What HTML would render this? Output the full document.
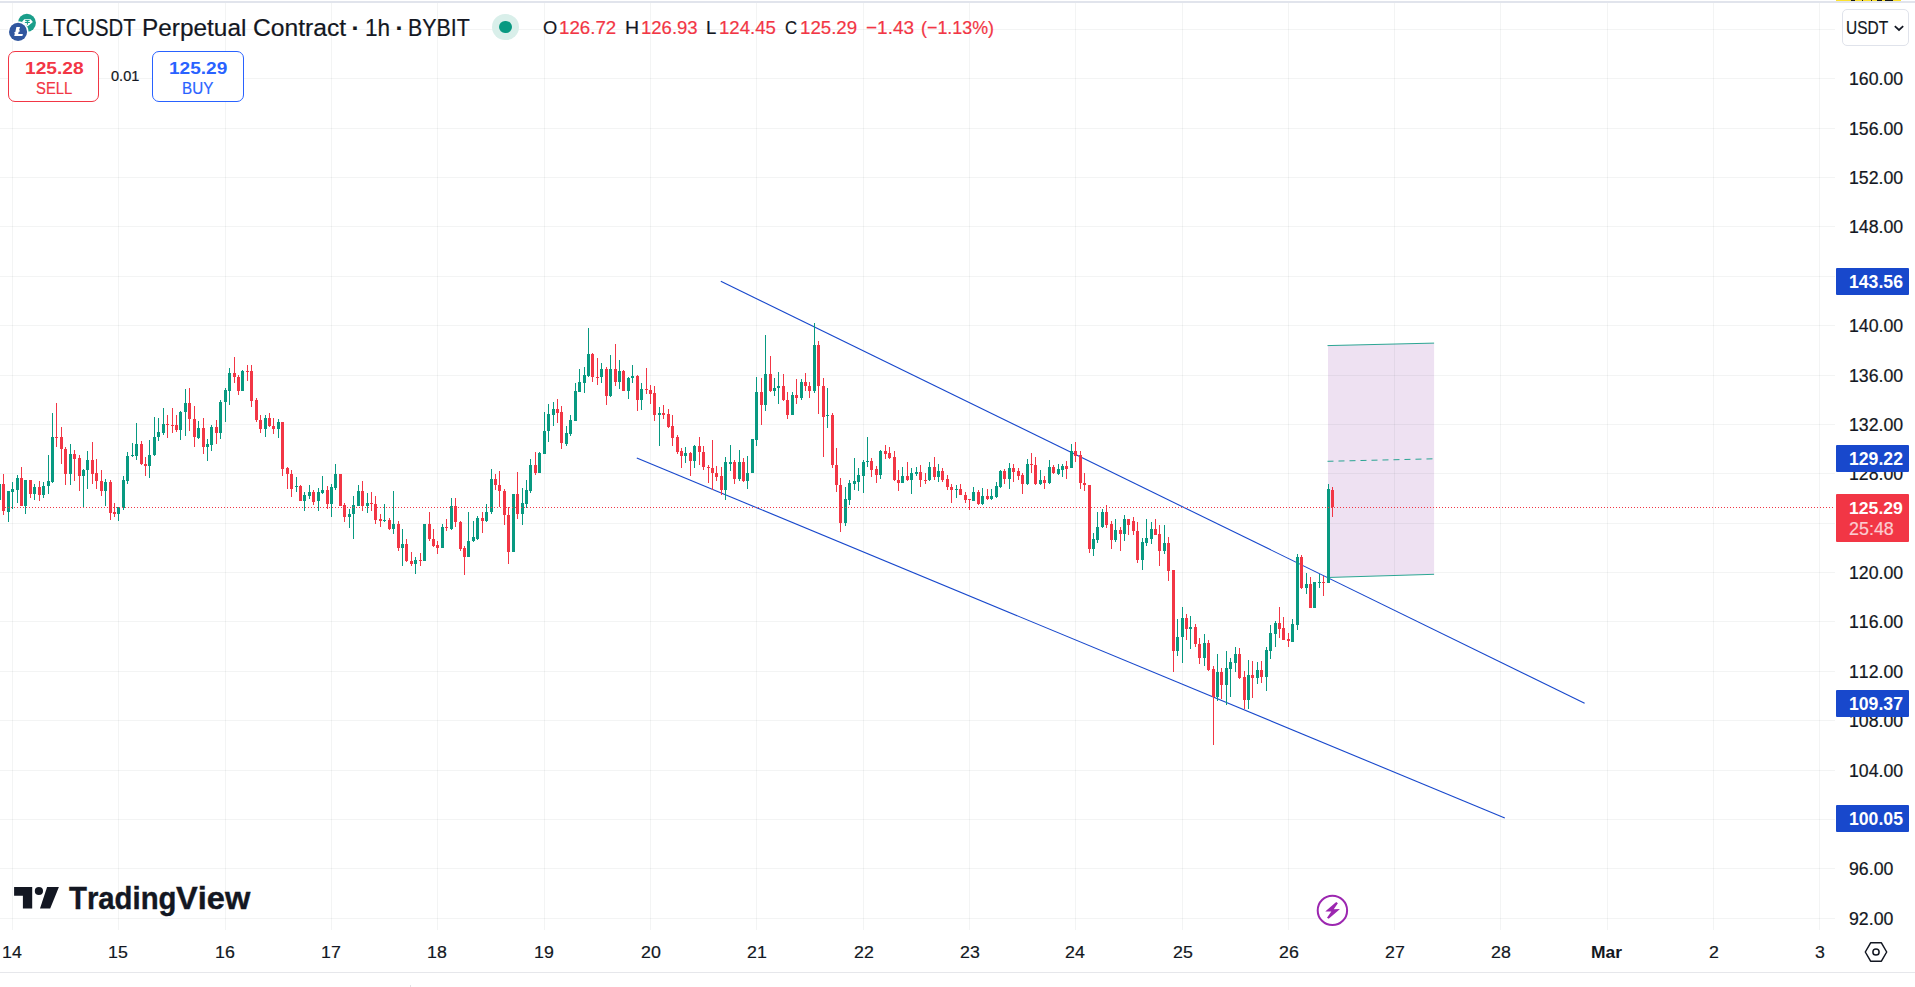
<!DOCTYPE html><html><head><meta charset="utf-8"><title>LTCUSDT chart</title><style>
html,body{margin:0;padding:0;background:#fff}
body{width:1915px;height:987px;position:relative;overflow:hidden;font-family:"Liberation Sans",sans-serif;color:#131722;font-kerning:none}
.a{position:absolute;white-space:nowrap;line-height:1}
.t{position:absolute;white-space:pre;line-height:1;transform-origin:0 0;-webkit-text-stroke:0.2px}
.lb{position:absolute;left:1836px;width:73px;height:27px;border-radius:1px;background:#1848cc}
.btn{position:absolute;top:51px;height:50.7px;box-sizing:border-box;border:1.3px solid;border-radius:7px;background:#fff}

</style></head><body>
<svg id="chart" width="1915" height="987" viewBox="0 0 1915 987" style="position:absolute;left:0;top:0">
<g stroke="rgba(42,46,57,0.055)" stroke-width="1" shape-rendering="crispEdges">
<line x1="12.5" y1="3" x2="12.5" y2="930"/>
<line x1="118.5" y1="3" x2="118.5" y2="930"/>
<line x1="225.5" y1="3" x2="225.5" y2="930"/>
<line x1="331.5" y1="3" x2="331.5" y2="930"/>
<line x1="437.5" y1="3" x2="437.5" y2="930"/>
<line x1="544.5" y1="3" x2="544.5" y2="930"/>
<line x1="650.5" y1="3" x2="650.5" y2="930"/>
<line x1="756.5" y1="3" x2="756.5" y2="930"/>
<line x1="863.5" y1="3" x2="863.5" y2="930"/>
<line x1="969.5" y1="3" x2="969.5" y2="930"/>
<line x1="1075.5" y1="3" x2="1075.5" y2="930"/>
<line x1="1182.5" y1="3" x2="1182.5" y2="930"/>
<line x1="1288.5" y1="3" x2="1288.5" y2="930"/>
<line x1="1394.5" y1="3" x2="1394.5" y2="930"/>
<line x1="1500.5" y1="3" x2="1500.5" y2="930"/>
<line x1="1607.5" y1="3" x2="1607.5" y2="930"/>
<line x1="1713.5" y1="3" x2="1713.5" y2="930"/>
<line x1="1819.5" y1="3" x2="1819.5" y2="930"/>
<line x1="0" y1="29.5" x2="1835" y2="29.5"/>
<line x1="0" y1="78.5" x2="1835" y2="78.5"/>
<line x1="0" y1="128.5" x2="1835" y2="128.5"/>
<line x1="0" y1="177.5" x2="1835" y2="177.5"/>
<line x1="0" y1="226.5" x2="1835" y2="226.5"/>
<line x1="0" y1="276.5" x2="1835" y2="276.5"/>
<line x1="0" y1="325.5" x2="1835" y2="325.5"/>
<line x1="0" y1="375.5" x2="1835" y2="375.5"/>
<line x1="0" y1="424.5" x2="1835" y2="424.5"/>
<line x1="0" y1="473.5" x2="1835" y2="473.5"/>
<line x1="0" y1="523.5" x2="1835" y2="523.5"/>
<line x1="0" y1="572.5" x2="1835" y2="572.5"/>
<line x1="0" y1="621.5" x2="1835" y2="621.5"/>
<line x1="0" y1="671.5" x2="1835" y2="671.5"/>
<line x1="0" y1="720.5" x2="1835" y2="720.5"/>
<line x1="0" y1="770.5" x2="1835" y2="770.5"/>
<line x1="0" y1="819.5" x2="1835" y2="819.5"/>
<line x1="0" y1="868.5" x2="1835" y2="868.5"/>
<line x1="0" y1="918.5" x2="1835" y2="918.5"/>
</g>
<polygon points="1328,345.6 1434.1,343.1 1434.1,574.3 1328,577.5" fill="#eee1f2"/>
<g stroke="rgba(42,46,57,0.055)" stroke-width="1" shape-rendering="crispEdges">
<line x1="1394.5" y1="344" x2="1394.5" y2="575"/>
<line x1="1328" y1="375.5" x2="1434" y2="375.5"/>
<line x1="1328" y1="424.5" x2="1434" y2="424.5"/>
<line x1="1328" y1="473.5" x2="1434" y2="473.5"/>
<line x1="1328" y1="523.5" x2="1434" y2="523.5"/>
</g>
<line x1="1327.5" y1="345.6" x2="1434.1" y2="343.1" stroke="#089981" stroke-width="1" stroke-opacity="0.85"/>
<line x1="1327.5" y1="577.5" x2="1434.1" y2="574.3" stroke="#089981" stroke-width="1" stroke-opacity="0.85"/>
<line x1="1327.5" y1="461.3" x2="1434.1" y2="458.8" stroke="#089981" stroke-width="1" stroke-opacity="0.85" stroke-dasharray="6 5"/>
<line x1="720.8" y1="281.2" x2="1584.6" y2="703.2" stroke="#1848cc" stroke-width="1.1"/>
<line x1="636.8" y1="458.0" x2="1504.8" y2="818.0" stroke="#1848cc" stroke-width="1.1"/>
<path d="M-0.5 484.0V505.0" stroke="#089981"/><rect x="-2.0" y="484.0" width="3" height="16.0" fill="#089981"/>
<path d="M3.5 474.0V515.0" stroke="#f23645"/><rect x="2.0" y="484.0" width="3" height="27.0" fill="#f23645"/>
<path d="M8.5 491.0V522.0" stroke="#089981"/><rect x="7.0" y="491.0" width="3" height="21.0" fill="#089981"/>
<path d="M12.5 482.0V509.0" stroke="#089981"/><rect x="11.0" y="489.0" width="3" height="3.0" fill="#089981"/>
<path d="M17.5 475.0V503.0" stroke="#089981"/><rect x="16.0" y="478.0" width="3" height="12.0" fill="#089981"/>
<path d="M21.5 467.0V506.0" stroke="#f23645"/><rect x="20.0" y="478.0" width="3" height="28.0" fill="#f23645"/>
<path d="M25.5 480.0V514.0" stroke="#089981"/><rect x="24.0" y="480.0" width="3" height="26.0" fill="#089981"/>
<path d="M30.5 480.0V498.0" stroke="#f23645"/><rect x="29.0" y="480.0" width="3" height="14.0" fill="#f23645"/>
<path d="M34.5 484.0V500.0" stroke="#089981"/><rect x="33.0" y="487.0" width="3" height="7.0" fill="#089981"/>
<path d="M39.5 481.0V501.0" stroke="#f23645"/><rect x="38.0" y="487.0" width="3" height="8.0" fill="#f23645"/>
<path d="M43.5 482.0V498.0" stroke="#089981"/><rect x="42.0" y="486.0" width="3" height="9.0" fill="#089981"/>
<path d="M48.5 455.0V494.0" stroke="#089981"/><rect x="47.0" y="481.0" width="3" height="5.0" fill="#089981"/>
<path d="M52.5 413.0V483.0" stroke="#089981"/><rect x="51.0" y="437.0" width="3" height="45.0" fill="#089981"/>
<path d="M56.5 403.0V447.0" stroke="#f23645"/><rect x="55.0" y="437.0" width="3" height="1.0" fill="#f23645"/>
<path d="M61.5 427.0V464.0" stroke="#f23645"/><rect x="60.0" y="437.0" width="3" height="12.0" fill="#f23645"/>
<path d="M65.5 447.0V485.0" stroke="#f23645"/><rect x="64.0" y="449.0" width="3" height="25.0" fill="#f23645"/>
<path d="M70.5 444.0V485.0" stroke="#089981"/><rect x="69.0" y="454.0" width="3" height="20.0" fill="#089981"/>
<path d="M74.5 450.0V481.0" stroke="#f23645"/><rect x="73.0" y="454.0" width="3" height="5.0" fill="#f23645"/>
<path d="M79.5 455.0V491.0" stroke="#f23645"/><rect x="78.0" y="458.0" width="3" height="18.0" fill="#f23645"/>
<path d="M83.5 469.0V507.0" stroke="#089981"/><rect x="82.0" y="470.0" width="3" height="6.0" fill="#089981"/>
<path d="M87.5 451.0V489.0" stroke="#089981"/><rect x="86.0" y="460.0" width="3" height="10.0" fill="#089981"/>
<path d="M92.5 442.0V484.0" stroke="#f23645"/><rect x="91.0" y="460.0" width="3" height="14.0" fill="#f23645"/>
<path d="M96.5 459.0V489.0" stroke="#f23645"/><rect x="95.0" y="473.0" width="3" height="8.0" fill="#f23645"/>
<path d="M101.5 470.0V496.0" stroke="#f23645"/><rect x="100.0" y="481.0" width="3" height="10.0" fill="#f23645"/>
<path d="M105.5 479.0V506.0" stroke="#089981"/><rect x="104.0" y="482.0" width="3" height="9.0" fill="#089981"/>
<path d="M110.5 480.0V520.0" stroke="#f23645"/><rect x="109.0" y="482.0" width="3" height="31.0" fill="#f23645"/>
<path d="M114.5 503.0V517.0" stroke="#f23645"/><rect x="113.0" y="512.0" width="3" height="2.0" fill="#f23645"/>
<path d="M118.5 507.0V521.0" stroke="#089981"/><rect x="117.0" y="507.0" width="3" height="7.0" fill="#089981"/>
<path d="M123.5 476.0V510.0" stroke="#089981"/><rect x="122.0" y="480.0" width="3" height="28.0" fill="#089981"/>
<path d="M127.5 452.0V484.0" stroke="#089981"/><rect x="126.0" y="456.0" width="3" height="25.0" fill="#089981"/>
<path d="M132.5 443.0V457.0" stroke="#089981"/><rect x="131.0" y="455.0" width="3" height="1.0" fill="#089981"/>
<path d="M136.5 423.0V460.0" stroke="#089981"/><rect x="135.0" y="444.0" width="3" height="12.0" fill="#089981"/>
<path d="M141.5 441.0V465.0" stroke="#f23645"/><rect x="140.0" y="444.0" width="3" height="20.0" fill="#f23645"/>
<path d="M145.5 457.0V476.0" stroke="#f23645"/><rect x="144.0" y="464.0" width="3" height="2.0" fill="#f23645"/>
<path d="M149.5 440.0V478.0" stroke="#089981"/><rect x="148.0" y="455.0" width="3" height="11.0" fill="#089981"/>
<path d="M154.5 417.0V456.0" stroke="#089981"/><rect x="153.0" y="437.0" width="3" height="18.0" fill="#089981"/>
<path d="M158.5 418.0V441.0" stroke="#089981"/><rect x="157.0" y="432.0" width="3" height="5.0" fill="#089981"/>
<path d="M163.5 408.0V435.0" stroke="#089981"/><rect x="162.0" y="424.0" width="3" height="9.0" fill="#089981"/>
<path d="M167.5 415.0V438.0" stroke="#f23645"/><rect x="166.0" y="424.0" width="3" height="1.0" fill="#f23645"/>
<path d="M172.5 408.0V433.0" stroke="#f23645"/><rect x="171.0" y="425.0" width="3" height="1.0" fill="#f23645"/>
<path d="M176.5 415.0V432.0" stroke="#f23645"/><rect x="175.0" y="425.0" width="3" height="5.0" fill="#f23645"/>
<path d="M180.5 411.0V440.0" stroke="#089981"/><rect x="179.0" y="412.0" width="3" height="18.0" fill="#089981"/>
<path d="M185.5 389.0V436.0" stroke="#089981"/><rect x="184.0" y="403.0" width="3" height="9.0" fill="#089981"/>
<path d="M189.5 388.0V431.0" stroke="#f23645"/><rect x="188.0" y="403.0" width="3" height="16.0" fill="#f23645"/>
<path d="M194.5 406.0V447.0" stroke="#f23645"/><rect x="193.0" y="419.0" width="3" height="18.0" fill="#f23645"/>
<path d="M198.5 421.0V439.0" stroke="#089981"/><rect x="197.0" y="428.0" width="3" height="10.0" fill="#089981"/>
<path d="M203.5 418.0V454.0" stroke="#f23645"/><rect x="202.0" y="428.0" width="3" height="19.0" fill="#f23645"/>
<path d="M207.5 439.0V461.0" stroke="#089981"/><rect x="206.0" y="444.0" width="3" height="3.0" fill="#089981"/>
<path d="M211.5 425.0V451.0" stroke="#089981"/><rect x="210.0" y="427.0" width="3" height="18.0" fill="#089981"/>
<path d="M216.5 420.0V444.0" stroke="#f23645"/><rect x="215.0" y="427.0" width="3" height="6.0" fill="#f23645"/>
<path d="M220.5 400.0V439.0" stroke="#089981"/><rect x="219.0" y="402.0" width="3" height="31.0" fill="#089981"/>
<path d="M225.5 388.0V422.0" stroke="#089981"/><rect x="224.0" y="390.0" width="3" height="12.0" fill="#089981"/>
<path d="M229.5 368.0V405.0" stroke="#089981"/><rect x="228.0" y="373.0" width="3" height="18.0" fill="#089981"/>
<path d="M234.5 357.0V383.0" stroke="#f23645"/><rect x="233.0" y="373.0" width="3" height="4.0" fill="#f23645"/>
<path d="M238.5 375.0V395.0" stroke="#f23645"/><rect x="237.0" y="377.0" width="3" height="14.0" fill="#f23645"/>
<path d="M242.5 370.0V391.0" stroke="#089981"/><rect x="241.0" y="371.0" width="3" height="20.0" fill="#089981"/>
<path d="M247.5 365.0V381.0" stroke="#f23645"/><rect x="246.0" y="371.0" width="3" height="1.0" fill="#f23645"/>
<path d="M251.5 365.0V407.0" stroke="#f23645"/><rect x="250.0" y="371.0" width="3" height="30.0" fill="#f23645"/>
<path d="M256.5 398.0V422.0" stroke="#f23645"/><rect x="255.0" y="400.0" width="3" height="20.0" fill="#f23645"/>
<path d="M260.5 415.0V433.0" stroke="#f23645"/><rect x="259.0" y="420.0" width="3" height="9.0" fill="#f23645"/>
<path d="M265.5 415.0V437.0" stroke="#089981"/><rect x="264.0" y="418.0" width="3" height="11.0" fill="#089981"/>
<path d="M269.5 413.0V427.0" stroke="#f23645"/><rect x="268.0" y="418.0" width="3" height="8.0" fill="#f23645"/>
<path d="M273.5 418.0V434.0" stroke="#f23645"/><rect x="272.0" y="426.0" width="3" height="3.0" fill="#f23645"/>
<path d="M278.5 419.0V438.0" stroke="#089981"/><rect x="277.0" y="422.0" width="3" height="7.0" fill="#089981"/>
<path d="M282.5 422.0V476.0" stroke="#f23645"/><rect x="281.0" y="422.0" width="3" height="47.0" fill="#f23645"/>
<path d="M287.5 467.0V489.0" stroke="#f23645"/><rect x="286.0" y="468.0" width="3" height="6.0" fill="#f23645"/>
<path d="M291.5 470.0V497.0" stroke="#f23645"/><rect x="290.0" y="474.0" width="3" height="15.0" fill="#f23645"/>
<path d="M296.5 477.0V492.0" stroke="#089981"/><rect x="295.0" y="486.0" width="3" height="1.0" fill="#089981"/>
<path d="M300.5 485.0V501.0" stroke="#f23645"/><rect x="299.0" y="486.0" width="3" height="15.0" fill="#f23645"/>
<path d="M304.5 492.0V511.0" stroke="#089981"/><rect x="303.0" y="495.0" width="3" height="6.0" fill="#089981"/>
<path d="M309.5 485.0V499.0" stroke="#089981"/><rect x="308.0" y="492.0" width="3" height="4.0" fill="#089981"/>
<path d="M313.5 490.0V505.0" stroke="#f23645"/><rect x="312.0" y="492.0" width="3" height="10.0" fill="#f23645"/>
<path d="M318.5 488.0V511.0" stroke="#089981"/><rect x="317.0" y="492.0" width="3" height="9.0" fill="#089981"/>
<path d="M322.5 476.0V494.0" stroke="#089981"/><rect x="321.0" y="490.0" width="3" height="3.0" fill="#089981"/>
<path d="M327.5 486.0V509.0" stroke="#f23645"/><rect x="326.0" y="490.0" width="3" height="14.0" fill="#f23645"/>
<path d="M331.5 484.0V517.0" stroke="#089981"/><rect x="330.0" y="487.0" width="3" height="17.0" fill="#089981"/>
<path d="M335.5 464.0V490.0" stroke="#089981"/><rect x="334.0" y="474.0" width="3" height="14.0" fill="#089981"/>
<path d="M340.5 474.0V506.0" stroke="#f23645"/><rect x="339.0" y="474.0" width="3" height="32.0" fill="#f23645"/>
<path d="M344.5 503.0V522.0" stroke="#f23645"/><rect x="343.0" y="505.0" width="3" height="12.0" fill="#f23645"/>
<path d="M349.5 509.0V528.0" stroke="#089981"/><rect x="348.0" y="514.0" width="3" height="3.0" fill="#089981"/>
<path d="M353.5 496.0V539.0" stroke="#089981"/><rect x="352.0" y="505.0" width="3" height="9.0" fill="#089981"/>
<path d="M358.5 485.0V506.0" stroke="#089981"/><rect x="357.0" y="491.0" width="3" height="15.0" fill="#089981"/>
<path d="M362.5 481.0V511.0" stroke="#f23645"/><rect x="361.0" y="491.0" width="3" height="15.0" fill="#f23645"/>
<path d="M367.5 493.0V513.0" stroke="#089981"/><rect x="366.0" y="503.0" width="3" height="3.0" fill="#089981"/>
<path d="M371.5 492.0V511.0" stroke="#f23645"/><rect x="370.0" y="503.0" width="3" height="1.0" fill="#f23645"/>
<path d="M375.5 496.0V524.0" stroke="#f23645"/><rect x="374.0" y="504.0" width="3" height="16.0" fill="#f23645"/>
<path d="M380.5 514.0V527.0" stroke="#f23645"/><rect x="379.0" y="519.0" width="3" height="2.0" fill="#f23645"/>
<path d="M384.5 504.0V522.0" stroke="#089981"/><rect x="383.0" y="520.0" width="3" height="1.0" fill="#089981"/>
<path d="M389.5 518.0V530.0" stroke="#f23645"/><rect x="388.0" y="520.0" width="3" height="9.0" fill="#f23645"/>
<path d="M393.5 491.0V534.0" stroke="#089981"/><rect x="392.0" y="524.0" width="3" height="5.0" fill="#089981"/>
<path d="M398.5 521.0V551.0" stroke="#f23645"/><rect x="397.0" y="524.0" width="3" height="24.0" fill="#f23645"/>
<path d="M402.5 529.0V566.0" stroke="#089981"/><rect x="401.0" y="544.0" width="3" height="4.0" fill="#089981"/>
<path d="M406.5 539.0V562.0" stroke="#f23645"/><rect x="405.0" y="544.0" width="3" height="17.0" fill="#f23645"/>
<path d="M411.5 552.0V566.0" stroke="#f23645"/><rect x="410.0" y="561.0" width="3" height="3.0" fill="#f23645"/>
<path d="M415.5 557.0V574.0" stroke="#089981"/><rect x="414.0" y="560.0" width="3" height="4.0" fill="#089981"/>
<path d="M420.5 553.0V566.0" stroke="#f23645"/><rect x="419.0" y="560.0" width="3" height="1.0" fill="#f23645"/>
<path d="M424.5 524.0V561.0" stroke="#089981"/><rect x="423.0" y="524.0" width="3" height="37.0" fill="#089981"/>
<path d="M429.5 512.0V541.0" stroke="#f23645"/><rect x="428.0" y="524.0" width="3" height="15.0" fill="#f23645"/>
<path d="M433.5 529.0V547.0" stroke="#f23645"/><rect x="432.0" y="539.0" width="3" height="7.0" fill="#f23645"/>
<path d="M437.5 541.0V554.0" stroke="#f23645"/><rect x="436.0" y="545.0" width="3" height="3.0" fill="#f23645"/>
<path d="M442.5 524.0V548.0" stroke="#089981"/><rect x="441.0" y="527.0" width="3" height="21.0" fill="#089981"/>
<path d="M446.5 519.0V531.0" stroke="#f23645"/><rect x="445.0" y="527.0" width="3" height="1.0" fill="#f23645"/>
<path d="M451.5 498.0V530.0" stroke="#089981"/><rect x="450.0" y="506.0" width="3" height="23.0" fill="#089981"/>
<path d="M455.5 498.0V527.0" stroke="#f23645"/><rect x="454.0" y="506.0" width="3" height="16.0" fill="#f23645"/>
<path d="M460.5 521.0V551.0" stroke="#f23645"/><rect x="459.0" y="522.0" width="3" height="27.0" fill="#f23645"/>
<path d="M464.5 546.0V575.0" stroke="#f23645"/><rect x="463.0" y="548.0" width="3" height="9.0" fill="#f23645"/>
<path d="M468.5 512.0V557.0" stroke="#089981"/><rect x="467.0" y="541.0" width="3" height="16.0" fill="#089981"/>
<path d="M473.5 521.0V542.0" stroke="#089981"/><rect x="472.0" y="537.0" width="3" height="4.0" fill="#089981"/>
<path d="M477.5 516.0V540.0" stroke="#089981"/><rect x="476.0" y="518.0" width="3" height="21.0" fill="#089981"/>
<path d="M482.5 512.0V533.0" stroke="#f23645"/><rect x="481.0" y="518.0" width="3" height="3.0" fill="#f23645"/>
<path d="M486.5 504.0V522.0" stroke="#089981"/><rect x="485.0" y="512.0" width="3" height="9.0" fill="#089981"/>
<path d="M491.5 469.0V514.0" stroke="#089981"/><rect x="490.0" y="479.0" width="3" height="33.0" fill="#089981"/>
<path d="M495.5 474.0V490.0" stroke="#f23645"/><rect x="494.0" y="479.0" width="3" height="6.0" fill="#f23645"/>
<path d="M499.5 471.0V507.0" stroke="#f23645"/><rect x="498.0" y="485.0" width="3" height="6.0" fill="#f23645"/>
<path d="M504.5 489.0V525.0" stroke="#f23645"/><rect x="503.0" y="491.0" width="3" height="24.0" fill="#f23645"/>
<path d="M508.5 507.0V564.0" stroke="#f23645"/><rect x="507.0" y="515.0" width="3" height="37.0" fill="#f23645"/>
<path d="M513.5 494.0V552.0" stroke="#089981"/><rect x="512.0" y="494.0" width="3" height="58.0" fill="#089981"/>
<path d="M517.5 472.0V519.0" stroke="#f23645"/><rect x="516.0" y="494.0" width="3" height="20.0" fill="#f23645"/>
<path d="M522.5 488.0V525.0" stroke="#089981"/><rect x="521.0" y="503.0" width="3" height="11.0" fill="#089981"/>
<path d="M526.5 480.0V508.0" stroke="#089981"/><rect x="525.0" y="490.0" width="3" height="14.0" fill="#089981"/>
<path d="M530.5 459.0V493.0" stroke="#089981"/><rect x="529.0" y="465.0" width="3" height="26.0" fill="#089981"/>
<path d="M535.5 452.0V475.0" stroke="#f23645"/><rect x="534.0" y="465.0" width="3" height="8.0" fill="#f23645"/>
<path d="M539.5 452.0V473.0" stroke="#089981"/><rect x="538.0" y="453.0" width="3" height="20.0" fill="#089981"/>
<path d="M544.5 412.0V454.0" stroke="#089981"/><rect x="543.0" y="431.0" width="3" height="23.0" fill="#089981"/>
<path d="M548.5 404.0V442.0" stroke="#089981"/><rect x="547.0" y="414.0" width="3" height="17.0" fill="#089981"/>
<path d="M553.5 402.0V426.0" stroke="#089981"/><rect x="552.0" y="409.0" width="3" height="6.0" fill="#089981"/>
<path d="M557.5 399.0V423.0" stroke="#f23645"/><rect x="556.0" y="409.0" width="3" height="4.0" fill="#f23645"/>
<path d="M561.5 406.0V449.0" stroke="#f23645"/><rect x="560.0" y="412.0" width="3" height="31.0" fill="#f23645"/>
<path d="M566.5 426.0V446.0" stroke="#089981"/><rect x="565.0" y="433.0" width="3" height="11.0" fill="#089981"/>
<path d="M570.5 415.0V436.0" stroke="#089981"/><rect x="569.0" y="420.0" width="3" height="14.0" fill="#089981"/>
<path d="M575.5 383.0V421.0" stroke="#089981"/><rect x="574.0" y="391.0" width="3" height="30.0" fill="#089981"/>
<path d="M579.5 369.0V392.0" stroke="#089981"/><rect x="578.0" y="382.0" width="3" height="10.0" fill="#089981"/>
<path d="M584.5 367.0V393.0" stroke="#089981"/><rect x="583.0" y="375.0" width="3" height="8.0" fill="#089981"/>
<path d="M588.5 328.0V377.0" stroke="#089981"/><rect x="587.0" y="354.0" width="3" height="22.0" fill="#089981"/>
<path d="M592.5 353.0V382.0" stroke="#f23645"/><rect x="591.0" y="354.0" width="3" height="23.0" fill="#f23645"/>
<path d="M597.5 358.0V385.0" stroke="#f23645"/><rect x="596.0" y="377.0" width="3" height="1.0" fill="#f23645"/>
<path d="M601.5 363.0V383.0" stroke="#089981"/><rect x="600.0" y="369.0" width="3" height="8.0" fill="#089981"/>
<path d="M606.5 367.0V405.0" stroke="#f23645"/><rect x="605.0" y="369.0" width="3" height="27.0" fill="#f23645"/>
<path d="M610.5 355.0V397.0" stroke="#089981"/><rect x="609.0" y="369.0" width="3" height="27.0" fill="#089981"/>
<path d="M615.5 344.0V386.0" stroke="#f23645"/><rect x="614.0" y="369.0" width="3" height="13.0" fill="#f23645"/>
<path d="M619.5 360.0V389.0" stroke="#089981"/><rect x="618.0" y="371.0" width="3" height="11.0" fill="#089981"/>
<path d="M623.5 370.0V391.0" stroke="#f23645"/><rect x="622.0" y="371.0" width="3" height="20.0" fill="#f23645"/>
<path d="M628.5 377.0V399.0" stroke="#089981"/><rect x="627.0" y="378.0" width="3" height="13.0" fill="#089981"/>
<path d="M632.5 365.0V383.0" stroke="#089981"/><rect x="631.0" y="376.0" width="3" height="2.0" fill="#089981"/>
<path d="M637.5 375.0V411.0" stroke="#f23645"/><rect x="636.0" y="376.0" width="3" height="24.0" fill="#f23645"/>
<path d="M641.5 383.0V410.0" stroke="#089981"/><rect x="640.0" y="389.0" width="3" height="11.0" fill="#089981"/>
<path d="M646.5 368.0V394.0" stroke="#f23645"/><rect x="645.0" y="389.0" width="3" height="1.0" fill="#f23645"/>
<path d="M650.5 385.0V404.0" stroke="#f23645"/><rect x="649.0" y="390.0" width="3" height="4.0" fill="#f23645"/>
<path d="M654.5 386.0V421.0" stroke="#f23645"/><rect x="653.0" y="393.0" width="3" height="22.0" fill="#f23645"/>
<path d="M659.5 407.0V446.0" stroke="#089981"/><rect x="658.0" y="413.0" width="3" height="2.0" fill="#089981"/>
<path d="M663.5 405.0V419.0" stroke="#f23645"/><rect x="662.0" y="413.0" width="3" height="2.0" fill="#f23645"/>
<path d="M668.5 409.0V428.0" stroke="#f23645"/><rect x="667.0" y="414.0" width="3" height="13.0" fill="#f23645"/>
<path d="M672.5 415.0V446.0" stroke="#f23645"/><rect x="671.0" y="426.0" width="3" height="12.0" fill="#f23645"/>
<path d="M677.5 435.0V454.0" stroke="#f23645"/><rect x="676.0" y="437.0" width="3" height="15.0" fill="#f23645"/>
<path d="M681.5 448.0V468.0" stroke="#f23645"/><rect x="680.0" y="451.0" width="3" height="5.0" fill="#f23645"/>
<path d="M685.5 447.0V463.0" stroke="#089981"/><rect x="684.0" y="453.0" width="3" height="3.0" fill="#089981"/>
<path d="M690.5 452.0V476.0" stroke="#f23645"/><rect x="689.0" y="453.0" width="3" height="8.0" fill="#f23645"/>
<path d="M694.5 445.0V468.0" stroke="#089981"/><rect x="693.0" y="446.0" width="3" height="15.0" fill="#089981"/>
<path d="M699.5 437.0V465.0" stroke="#f23645"/><rect x="698.0" y="446.0" width="3" height="6.0" fill="#f23645"/>
<path d="M703.5 446.0V470.0" stroke="#f23645"/><rect x="702.0" y="452.0" width="3" height="15.0" fill="#f23645"/>
<path d="M708.5 465.0V483.0" stroke="#f23645"/><rect x="707.0" y="467.0" width="3" height="1.0" fill="#f23645"/>
<path d="M712.5 440.0V490.0" stroke="#f23645"/><rect x="711.0" y="468.0" width="3" height="5.0" fill="#f23645"/>
<path d="M716.5 466.0V481.0" stroke="#f23645"/><rect x="715.0" y="473.0" width="3" height="4.0" fill="#f23645"/>
<path d="M721.5 467.0V495.0" stroke="#f23645"/><rect x="720.0" y="476.0" width="3" height="14.0" fill="#f23645"/>
<path d="M725.5 457.0V500.0" stroke="#089981"/><rect x="724.0" y="462.0" width="3" height="28.0" fill="#089981"/>
<path d="M730.5 445.0V471.0" stroke="#089981"/><rect x="729.0" y="462.0" width="3" height="2.0" fill="#089981"/>
<path d="M734.5 460.0V484.0" stroke="#f23645"/><rect x="733.0" y="462.0" width="3" height="17.0" fill="#f23645"/>
<path d="M739.5 450.0V481.0" stroke="#089981"/><rect x="738.0" y="462.0" width="3" height="17.0" fill="#089981"/>
<path d="M743.5 458.0V482.0" stroke="#f23645"/><rect x="742.0" y="462.0" width="3" height="19.0" fill="#f23645"/>
<path d="M747.5 456.0V489.0" stroke="#089981"/><rect x="746.0" y="473.0" width="3" height="8.0" fill="#089981"/>
<path d="M752.5 439.0V473.0" stroke="#089981"/><rect x="751.0" y="439.0" width="3" height="34.0" fill="#089981"/>
<path d="M756.5 377.0V446.0" stroke="#089981"/><rect x="755.0" y="392.0" width="3" height="48.0" fill="#089981"/>
<path d="M761.5 378.0V425.0" stroke="#f23645"/><rect x="760.0" y="392.0" width="3" height="13.0" fill="#f23645"/>
<path d="M765.5 335.0V411.0" stroke="#089981"/><rect x="764.0" y="374.0" width="3" height="31.0" fill="#089981"/>
<path d="M770.5 356.0V392.0" stroke="#f23645"/><rect x="769.0" y="374.0" width="3" height="17.0" fill="#f23645"/>
<path d="M774.5 378.0V396.0" stroke="#089981"/><rect x="773.0" y="388.0" width="3" height="3.0" fill="#089981"/>
<path d="M778.5 372.0V404.0" stroke="#089981"/><rect x="777.0" y="386.0" width="3" height="2.0" fill="#089981"/>
<path d="M783.5 374.0V401.0" stroke="#f23645"/><rect x="782.0" y="386.0" width="3" height="14.0" fill="#f23645"/>
<path d="M787.5 392.0V419.0" stroke="#f23645"/><rect x="786.0" y="400.0" width="3" height="15.0" fill="#f23645"/>
<path d="M792.5 392.0V415.0" stroke="#089981"/><rect x="791.0" y="395.0" width="3" height="20.0" fill="#089981"/>
<path d="M796.5 379.0V404.0" stroke="#f23645"/><rect x="795.0" y="395.0" width="3" height="3.0" fill="#f23645"/>
<path d="M801.5 379.0V400.0" stroke="#089981"/><rect x="800.0" y="382.0" width="3" height="16.0" fill="#089981"/>
<path d="M805.5 373.0V391.0" stroke="#f23645"/><rect x="804.0" y="382.0" width="3" height="4.0" fill="#f23645"/>
<path d="M809.5 382.0V398.0" stroke="#f23645"/><rect x="808.0" y="386.0" width="3" height="5.0" fill="#f23645"/>
<path d="M814.5 323.0V393.0" stroke="#089981"/><rect x="813.0" y="345.0" width="3" height="46.0" fill="#089981"/>
<path d="M818.5 341.0V414.0" stroke="#f23645"/><rect x="817.0" y="345.0" width="3" height="41.0" fill="#f23645"/>
<path d="M823.5 378.0V457.0" stroke="#f23645"/><rect x="822.0" y="386.0" width="3" height="31.0" fill="#f23645"/>
<path d="M827.5 388.0V428.0" stroke="#089981"/><rect x="826.0" y="415.0" width="3" height="1.0" fill="#089981"/>
<path d="M832.5 413.0V468.0" stroke="#f23645"/><rect x="831.0" y="415.0" width="3" height="50.0" fill="#f23645"/>
<path d="M836.5 448.0V492.0" stroke="#f23645"/><rect x="835.0" y="465.0" width="3" height="20.0" fill="#f23645"/>
<path d="M840.5 478.0V532.0" stroke="#f23645"/><rect x="839.0" y="485.0" width="3" height="38.0" fill="#f23645"/>
<path d="M845.5 487.0V526.0" stroke="#089981"/><rect x="844.0" y="499.0" width="3" height="24.0" fill="#089981"/>
<path d="M849.5 480.0V505.0" stroke="#089981"/><rect x="848.0" y="483.0" width="3" height="17.0" fill="#089981"/>
<path d="M854.5 458.0V490.0" stroke="#089981"/><rect x="853.0" y="481.0" width="3" height="3.0" fill="#089981"/>
<path d="M858.5 468.0V491.0" stroke="#089981"/><rect x="857.0" y="475.0" width="3" height="7.0" fill="#089981"/>
<path d="M863.5 460.0V493.0" stroke="#089981"/><rect x="862.0" y="462.0" width="3" height="14.0" fill="#089981"/>
<path d="M867.5 437.0V467.0" stroke="#089981"/><rect x="866.0" y="461.0" width="3" height="1.0" fill="#089981"/>
<path d="M871.5 458.0V477.0" stroke="#f23645"/><rect x="870.0" y="461.0" width="3" height="9.0" fill="#f23645"/>
<path d="M876.5 466.0V483.0" stroke="#f23645"/><rect x="875.0" y="469.0" width="3" height="6.0" fill="#f23645"/>
<path d="M880.5 450.0V479.0" stroke="#089981"/><rect x="879.0" y="451.0" width="3" height="24.0" fill="#089981"/>
<path d="M885.5 445.0V459.0" stroke="#f23645"/><rect x="884.0" y="451.0" width="3" height="3.0" fill="#f23645"/>
<path d="M889.5 447.0V459.0" stroke="#f23645"/><rect x="888.0" y="453.0" width="3" height="5.0" fill="#f23645"/>
<path d="M894.5 451.0V481.0" stroke="#f23645"/><rect x="893.0" y="457.0" width="3" height="23.0" fill="#f23645"/>
<path d="M898.5 470.0V491.0" stroke="#f23645"/><rect x="897.0" y="480.0" width="3" height="3.0" fill="#f23645"/>
<path d="M902.5 467.0V483.0" stroke="#089981"/><rect x="901.0" y="476.0" width="3" height="7.0" fill="#089981"/>
<path d="M907.5 462.0V481.0" stroke="#f23645"/><rect x="906.0" y="476.0" width="3" height="4.0" fill="#f23645"/>
<path d="M911.5 468.0V494.0" stroke="#089981"/><rect x="910.0" y="473.0" width="3" height="7.0" fill="#089981"/>
<path d="M916.5 467.0V476.0" stroke="#089981"/><rect x="915.0" y="472.0" width="3" height="2.0" fill="#089981"/>
<path d="M920.5 465.0V487.0" stroke="#f23645"/><rect x="919.0" y="472.0" width="3" height="8.0" fill="#f23645"/>
<path d="M925.5 473.0V484.0" stroke="#f23645"/><rect x="924.0" y="480.0" width="3" height="1.0" fill="#f23645"/>
<path d="M929.5 462.0V481.0" stroke="#089981"/><rect x="928.0" y="467.0" width="3" height="13.0" fill="#089981"/>
<path d="M934.5 457.0V480.0" stroke="#f23645"/><rect x="933.0" y="467.0" width="3" height="10.0" fill="#f23645"/>
<path d="M938.5 464.0V482.0" stroke="#089981"/><rect x="937.0" y="471.0" width="3" height="6.0" fill="#089981"/>
<path d="M942.5 468.0V482.0" stroke="#f23645"/><rect x="941.0" y="471.0" width="3" height="9.0" fill="#f23645"/>
<path d="M947.5 475.0V490.0" stroke="#f23645"/><rect x="946.0" y="479.0" width="3" height="8.0" fill="#f23645"/>
<path d="M951.5 484.0V503.0" stroke="#f23645"/><rect x="950.0" y="487.0" width="3" height="3.0" fill="#f23645"/>
<path d="M956.5 485.0V498.0" stroke="#089981"/><rect x="955.0" y="489.0" width="3" height="1.0" fill="#089981"/>
<path d="M960.5 484.0V495.0" stroke="#f23645"/><rect x="959.0" y="489.0" width="3" height="6.0" fill="#f23645"/>
<path d="M965.5 492.0V503.0" stroke="#f23645"/><rect x="964.0" y="495.0" width="3" height="5.0" fill="#f23645"/>
<path d="M969.5 499.0V510.0" stroke="#f23645"/><rect x="968.0" y="499.0" width="3" height="1.0" fill="#f23645"/>
<path d="M973.5 487.0V501.0" stroke="#089981"/><rect x="972.0" y="492.0" width="3" height="9.0" fill="#089981"/>
<path d="M978.5 490.0V505.0" stroke="#f23645"/><rect x="977.0" y="492.0" width="3" height="12.0" fill="#f23645"/>
<path d="M982.5 488.0V505.0" stroke="#089981"/><rect x="981.0" y="496.0" width="3" height="8.0" fill="#089981"/>
<path d="M987.5 489.0V500.0" stroke="#f23645"/><rect x="986.0" y="496.0" width="3" height="3.0" fill="#f23645"/>
<path d="M991.5 489.0V500.0" stroke="#089981"/><rect x="990.0" y="496.0" width="3" height="3.0" fill="#089981"/>
<path d="M996.5 482.0V498.0" stroke="#089981"/><rect x="995.0" y="486.0" width="3" height="11.0" fill="#089981"/>
<path d="M1000.5 470.0V488.0" stroke="#089981"/><rect x="999.0" y="471.0" width="3" height="16.0" fill="#089981"/>
<path d="M1004.5 469.0V484.0" stroke="#f23645"/><rect x="1003.0" y="471.0" width="3" height="8.0" fill="#f23645"/>
<path d="M1009.5 463.0V489.0" stroke="#089981"/><rect x="1008.0" y="468.0" width="3" height="11.0" fill="#089981"/>
<path d="M1013.5 464.0V482.0" stroke="#f23645"/><rect x="1012.0" y="468.0" width="3" height="4.0" fill="#f23645"/>
<path d="M1018.5 468.0V480.0" stroke="#f23645"/><rect x="1017.0" y="471.0" width="3" height="5.0" fill="#f23645"/>
<path d="M1022.5 473.0V494.0" stroke="#f23645"/><rect x="1021.0" y="475.0" width="3" height="9.0" fill="#f23645"/>
<path d="M1027.5 459.0V485.0" stroke="#089981"/><rect x="1026.0" y="464.0" width="3" height="20.0" fill="#089981"/>
<path d="M1031.5 453.0V473.0" stroke="#f23645"/><rect x="1030.0" y="464.0" width="3" height="1.0" fill="#f23645"/>
<path d="M1035.5 457.0V485.0" stroke="#f23645"/><rect x="1034.0" y="465.0" width="3" height="19.0" fill="#f23645"/>
<path d="M1040.5 470.0V485.0" stroke="#089981"/><rect x="1039.0" y="480.0" width="3" height="4.0" fill="#089981"/>
<path d="M1044.5 476.0V489.0" stroke="#f23645"/><rect x="1043.0" y="480.0" width="3" height="3.0" fill="#f23645"/>
<path d="M1049.5 460.0V484.0" stroke="#089981"/><rect x="1048.0" y="467.0" width="3" height="16.0" fill="#089981"/>
<path d="M1053.5 465.0V474.0" stroke="#f23645"/><rect x="1052.0" y="467.0" width="3" height="6.0" fill="#f23645"/>
<path d="M1058.5 464.0V475.0" stroke="#089981"/><rect x="1057.0" y="469.0" width="3" height="5.0" fill="#089981"/>
<path d="M1062.5 464.0V477.0" stroke="#089981"/><rect x="1061.0" y="466.0" width="3" height="4.0" fill="#089981"/>
<path d="M1066.5 461.0V479.0" stroke="#f23645"/><rect x="1065.0" y="466.0" width="3" height="3.0" fill="#f23645"/>
<path d="M1071.5 444.0V468.0" stroke="#089981"/><rect x="1070.0" y="451.0" width="3" height="17.0" fill="#089981"/>
<path d="M1075.5 442.0V462.0" stroke="#f23645"/><rect x="1074.0" y="451.0" width="3" height="5.0" fill="#f23645"/>
<path d="M1080.5 451.0V489.0" stroke="#f23645"/><rect x="1079.0" y="455.0" width="3" height="28.0" fill="#f23645"/>
<path d="M1084.5 473.0V491.0" stroke="#f23645"/><rect x="1083.0" y="483.0" width="3" height="2.0" fill="#f23645"/>
<path d="M1089.5 485.0V553.0" stroke="#f23645"/><rect x="1088.0" y="485.0" width="3" height="64.0" fill="#f23645"/>
<path d="M1093.5 533.0V556.0" stroke="#089981"/><rect x="1092.0" y="539.0" width="3" height="10.0" fill="#089981"/>
<path d="M1097.5 512.0V543.0" stroke="#089981"/><rect x="1096.0" y="527.0" width="3" height="13.0" fill="#089981"/>
<path d="M1102.5 509.0V528.0" stroke="#089981"/><rect x="1101.0" y="512.0" width="3" height="15.0" fill="#089981"/>
<path d="M1106.5 505.0V528.0" stroke="#f23645"/><rect x="1105.0" y="512.0" width="3" height="13.0" fill="#f23645"/>
<path d="M1111.5 521.0V549.0" stroke="#f23645"/><rect x="1110.0" y="524.0" width="3" height="16.0" fill="#f23645"/>
<path d="M1115.5 519.0V542.0" stroke="#089981"/><rect x="1114.0" y="530.0" width="3" height="10.0" fill="#089981"/>
<path d="M1120.5 527.0V551.0" stroke="#f23645"/><rect x="1119.0" y="530.0" width="3" height="4.0" fill="#f23645"/>
<path d="M1124.5 515.0V541.0" stroke="#089981"/><rect x="1123.0" y="519.0" width="3" height="15.0" fill="#089981"/>
<path d="M1128.5 519.0V535.0" stroke="#f23645"/><rect x="1127.0" y="519.0" width="3" height="6.0" fill="#f23645"/>
<path d="M1133.5 517.0V535.0" stroke="#f23645"/><rect x="1132.0" y="521.0" width="3" height="10.0" fill="#f23645"/>
<path d="M1137.5 522.0V563.0" stroke="#f23645"/><rect x="1136.0" y="531.0" width="3" height="29.0" fill="#f23645"/>
<path d="M1142.5 538.0V570.0" stroke="#089981"/><rect x="1141.0" y="542.0" width="3" height="18.0" fill="#089981"/>
<path d="M1146.5 519.0V546.0" stroke="#089981"/><rect x="1145.0" y="538.0" width="3" height="5.0" fill="#089981"/>
<path d="M1151.5 522.0V544.0" stroke="#089981"/><rect x="1150.0" y="529.0" width="3" height="10.0" fill="#089981"/>
<path d="M1155.5 519.0V535.0" stroke="#f23645"/><rect x="1154.0" y="529.0" width="3" height="6.0" fill="#f23645"/>
<path d="M1159.5 525.0V566.0" stroke="#f23645"/><rect x="1158.0" y="534.0" width="3" height="17.0" fill="#f23645"/>
<path d="M1164.5 525.0V554.0" stroke="#089981"/><rect x="1163.0" y="543.0" width="3" height="8.0" fill="#089981"/>
<path d="M1168.5 537.0V581.0" stroke="#f23645"/><rect x="1167.0" y="543.0" width="3" height="28.0" fill="#f23645"/>
<path d="M1173.5 570.0V672.0" stroke="#f23645"/><rect x="1172.0" y="570.0" width="3" height="81.0" fill="#f23645"/>
<path d="M1177.5 619.0V656.0" stroke="#089981"/><rect x="1176.0" y="637.0" width="3" height="14.0" fill="#089981"/>
<path d="M1182.5 607.0V663.0" stroke="#089981"/><rect x="1181.0" y="618.0" width="3" height="19.0" fill="#089981"/>
<path d="M1186.5 614.0V640.0" stroke="#f23645"/><rect x="1185.0" y="618.0" width="3" height="11.0" fill="#f23645"/>
<path d="M1190.5 616.0V649.0" stroke="#089981"/><rect x="1189.0" y="627.0" width="3" height="2.0" fill="#089981"/>
<path d="M1195.5 624.0V647.0" stroke="#f23645"/><rect x="1194.0" y="627.0" width="3" height="17.0" fill="#f23645"/>
<path d="M1199.5 638.0V664.0" stroke="#f23645"/><rect x="1198.0" y="644.0" width="3" height="14.0" fill="#f23645"/>
<path d="M1204.5 634.0V666.0" stroke="#089981"/><rect x="1203.0" y="643.0" width="3" height="15.0" fill="#089981"/>
<path d="M1208.5 640.0V671.0" stroke="#f23645"/><rect x="1207.0" y="643.0" width="3" height="27.0" fill="#f23645"/>
<path d="M1213.5 666.0V745.0" stroke="#f23645"/><rect x="1212.0" y="669.0" width="3" height="28.0" fill="#f23645"/>
<path d="M1217.5 654.0V701.0" stroke="#089981"/><rect x="1216.0" y="672.0" width="3" height="25.0" fill="#089981"/>
<path d="M1221.5 668.0V699.0" stroke="#f23645"/><rect x="1220.0" y="672.0" width="3" height="13.0" fill="#f23645"/>
<path d="M1226.5 651.0V705.0" stroke="#089981"/><rect x="1225.0" y="668.0" width="3" height="17.0" fill="#089981"/>
<path d="M1230.5 658.0V697.0" stroke="#089981"/><rect x="1229.0" y="662.0" width="3" height="7.0" fill="#089981"/>
<path d="M1235.5 647.0V672.0" stroke="#089981"/><rect x="1234.0" y="654.0" width="3" height="9.0" fill="#089981"/>
<path d="M1239.5 648.0V679.0" stroke="#f23645"/><rect x="1238.0" y="654.0" width="3" height="24.0" fill="#f23645"/>
<path d="M1244.5 671.0V709.0" stroke="#f23645"/><rect x="1243.0" y="677.0" width="3" height="23.0" fill="#f23645"/>
<path d="M1248.5 660.0V709.0" stroke="#089981"/><rect x="1247.0" y="675.0" width="3" height="25.0" fill="#089981"/>
<path d="M1252.5 661.0V698.0" stroke="#f23645"/><rect x="1251.0" y="675.0" width="3" height="3.0" fill="#f23645"/>
<path d="M1257.5 662.0V684.0" stroke="#089981"/><rect x="1256.0" y="670.0" width="3" height="8.0" fill="#089981"/>
<path d="M1261.5 661.0V683.0" stroke="#f23645"/><rect x="1260.0" y="670.0" width="3" height="7.0" fill="#f23645"/>
<path d="M1266.5 647.0V691.0" stroke="#089981"/><rect x="1265.0" y="650.0" width="3" height="27.0" fill="#089981"/>
<path d="M1270.5 625.0V659.0" stroke="#089981"/><rect x="1269.0" y="633.0" width="3" height="18.0" fill="#089981"/>
<path d="M1275.5 621.0V647.0" stroke="#089981"/><rect x="1274.0" y="623.0" width="3" height="11.0" fill="#089981"/>
<path d="M1279.5 607.0V638.0" stroke="#f23645"/><rect x="1278.0" y="623.0" width="3" height="6.0" fill="#f23645"/>
<path d="M1283.5 617.0V640.0" stroke="#f23645"/><rect x="1282.0" y="628.0" width="3" height="12.0" fill="#f23645"/>
<path d="M1288.5 633.0V647.0" stroke="#f23645"/><rect x="1287.0" y="639.0" width="3" height="2.0" fill="#f23645"/>
<path d="M1292.5 619.0V642.0" stroke="#089981"/><rect x="1291.0" y="624.0" width="3" height="18.0" fill="#089981"/>
<path d="M1297.5 554.0V630.0" stroke="#089981"/><rect x="1296.0" y="557.0" width="3" height="68.0" fill="#089981"/>
<path d="M1301.5 555.0V589.0" stroke="#f23645"/><rect x="1300.0" y="557.0" width="3" height="31.0" fill="#f23645"/>
<path d="M1306.5 573.0V594.0" stroke="#089981"/><rect x="1305.0" y="584.0" width="3" height="4.0" fill="#089981"/>
<path d="M1310.5 577.0V608.0" stroke="#f23645"/><rect x="1309.0" y="584.0" width="3" height="24.0" fill="#f23645"/>
<path d="M1314.5 582.0V608.0" stroke="#089981"/><rect x="1313.0" y="582.0" width="3" height="26.0" fill="#089981"/>
<path d="M1319.5 574.0V588.0" stroke="#089981"/><rect x="1318.0" y="582.0" width="3" height="1.0" fill="#089981"/>
<path d="M1323.5 576.0V596.0" stroke="#f23645"/><rect x="1322.0" y="582.0" width="3" height="1.0" fill="#f23645"/>
<path d="M1328.5 484.0V583.0" stroke="#089981"/><rect x="1327.0" y="489.0" width="3" height="94.0" fill="#089981"/>
<path d="M1332.5 487.0V517.0" stroke="#f23645"/><rect x="1331.0" y="490.0" width="3" height="17.0" fill="#f23645"/>
<line x1="2" y1="507.5" x2="1833" y2="507.5" stroke="#f23645" stroke-width="1" stroke-dasharray="1 2" shape-rendering="crispEdges"/>
<g transform="translate(1332.4,910.4)"><circle r="14.7" fill="#fff" stroke="#9c27b0" stroke-width="2"/><path d="M3.8 -8.3L5.5 -7.100L1.300 -1.200L7.500 -1.300L5.900 0.050L-3.700 8.400L-5.400 7.250L-1.050 1.100L-7.100 1.100L-5.750 -0.200Z" fill="#9c27b0"/></g>
</svg>
<div class="a" style="left:1836px;top:0;width:65px;height:1px;background:#fde22e"></div>
<div class="a" style="left:1851px;top:0;width:4px;height:1px;background:#1a1a10"></div>
<div class="a" style="left:1862px;top:0;width:1px;height:1px;background:#1a1a10"></div>
<div class="a" style="left:1870.6px;top:0;width:1.5px;height:1px;background:#1a1a10"></div>
<div class="a" style="left:1877.2px;top:0;width:5px;height:1px;background:#1a1a10"></div>
<div class="a" style="left:1885.3px;top:0;width:7.5px;height:1px;background:#1a1a10"></div>
<div class="a" style="left:0;top:1px;width:1915px;height:2px;background:#e1e4ec"></div>
<svg class="a" style="left:6px;top:10px" width="32" height="34" viewBox="0 0 32 34"><circle cx="20.9" cy="12.8" r="9.05" fill="#1a9e8a"/><path d="M18.2 9.2H24.600L26.900 12 21.400 16.400 15.900 12Z" fill="#fff"/><path d="M19.200 10.100h4.400v1h-1.700v.6c1.300.1 2.200.3 2.200.7s-.9.600-2.200.7v1.700h-1v-1.700c-1.300-.1-2.200-.3-2.200-.7s.9-.6 2.200-.7v-.6h-1.700z" fill="#1a9e8a"/><circle cx="12.05" cy="21.9" r="10.600" fill="#fff"/><circle cx="12.050" cy="21.900" r="9.050" fill="#30579f"/><path d="M10.400 16.900H14L13 20.600 14 20.200 13.700 21.400 12.700 21.800 12.200 23.900H16.900L16.400 26H8.200L9 23.100 8.100 23.500 8.400 22.300 9.300 21.900Z" fill="#fff"/></svg>
<div class="t" id="t1" style="left:41.83px;top:16.84px;font-size:23.69px;transform:scaleX(0.8570);color:#131722;">LTCUSDT</div>
<div class="t" id="t2" style="left:142.00px;top:16.84px;font-size:23.69px;transform:scaleX(1.0297);color:#131722;">Perpetual</div>
<div class="t" id="t3" style="left:252.95px;top:16.84px;font-size:23.69px;transform:scaleX(1.0401);color:#131722;">Contract</div>
<div class="t" id="t5" style="left:364.88px;top:16.84px;font-size:23.69px;transform:scaleX(0.9518);color:#131722;">1h</div>
<div class="t" id="t7" style="left:408.05px;top:16.84px;font-size:23.69px;transform:scaleX(0.9019);color:#131722;">BYBIT</div>
<div class="t" id="t4" style="left:349.36px;top:10.79px;font-size:31.65px;transform:scaleX(1.1282)">·</div>
<div class="t" id="t6" style="left:393.26px;top:10.79px;font-size:31.65px;transform:scaleX(1.1282)">·</div>
<div class="a" style="left:492.2px;top:13.6px;width:26.6px;height:26.6px;border-radius:50%;background:#d9efea"></div>
<div class="a" style="left:499.4px;top:20.8px;width:12.2px;height:12.2px;border-radius:50%;background:#089981"></div>
<div class="t" id="vo" style="left:559.27px;top:18.05px;font-size:19.21px;transform:scaleX(0.9747);color:#f23645;">126.72</div>
<div class="t" id="lo" style="left:542.63px;top:18.05px;font-size:19.21px;transform:scaleX(0.9533);color:#131722;">O</div>
<div class="t" id="lh" style="left:624.60px;top:18.05px;font-size:19.21px;transform:scaleX(1.0158);color:#131722;">H</div>
<div class="t" id="vh" style="left:640.69px;top:18.05px;font-size:19.21px;transform:scaleX(0.9655);color:#f23645;">126.93</div>
<div class="t" id="ll" style="left:706.37px;top:18.05px;font-size:19.21px;transform:scaleX(0.9682);color:#131722;">L</div>
<div class="t" id="vl" style="left:719.08px;top:18.05px;font-size:19.21px;transform:scaleX(0.9702);color:#f23645;">124.45</div>
<div class="t" id="lc" style="left:784.85px;top:18.05px;font-size:19.21px;transform:scaleX(0.8714);color:#131722;">C</div>
<div class="t" id="vc" style="left:799.88px;top:18.05px;font-size:19.21px;transform:scaleX(0.9738);color:#f23645;">125.29</div>
<div class="t" id="ch" style="left:865.56px;top:18.05px;font-size:19.21px;transform:scaleX(0.9912);color:#f23645;">−1.43</div>
<div class="t" id="pc" style="left:920.79px;top:18.05px;font-size:19.21px;transform:scaleX(0.9317);color:#f23645;">(−1.13%)</div>
<div class="btn" style="left:8.4px;width:90.4px;border-color:#f23645"></div>
<div class="btn" style="left:152px;width:92px;border-color:#2962ff"></div>
<div class="t" id="sp" style="left:24.59px;top:59.52px;font-size:17.37px;transform:scaleX(1.1047);font-weight:bold;-webkit-text-stroke:0;color:#f23645;">125.28</div>
<div class="t" id="sl" style="left:35.53px;top:80.52px;font-size:16.86px;transform:scaleX(0.8792);color:#f23645;">SELL</div>
<div class="t" id="sd" style="left:110.93px;top:69.04px;font-size:14.55px;transform:scaleX(1.0024);color:#131722;">0.01</div>
<div class="t" id="bp" style="left:169.40px;top:59.52px;font-size:17.37px;transform:scaleX(1.0973);font-weight:bold;-webkit-text-stroke:0;color:#2962ff;">125.29</div>
<div class="t" id="bl" style="left:181.85px;top:80.52px;font-size:16.86px;transform:scaleX(0.9023);color:#2962ff;">BUY</div>
<div class="a" style="left:1841.5px;top:9.2px;width:67.3px;height:37.2px;box-sizing:border-box;border:1px solid #e0e3eb;border-radius:5px"></div>
<div class="t" id="cur" style="left:1846.10px;top:19.69px;font-size:17.73px;transform:scaleX(0.8753);color:#131722;">USDT</div>
<svg class="a" style="left:1893.4px;top:23.2px" width="12" height="10" viewBox="0 0 12 10"><path d="M1.8 3.2L6 7l4.2-3.800" fill="none" stroke="#131722" stroke-width="1.700"/></svg>
<div class="t" style="left:1848.65px;top:71.00px;font-size:17.51px;transform:scaleX(1.0126)">160.00</div>
<div class="t" style="left:1848.65px;top:121.00px;font-size:17.51px;transform:scaleX(1.0126)">156.00</div>
<div class="t" style="left:1848.65px;top:170.00px;font-size:17.51px;transform:scaleX(1.0126)">152.00</div>
<div class="t" style="left:1848.65px;top:219.00px;font-size:17.51px;transform:scaleX(1.0126)">148.00</div>
<div class="t" style="left:1848.65px;top:269.00px;font-size:17.51px;transform:scaleX(1.0126)">144.00</div>
<div class="t" style="left:1848.65px;top:318.00px;font-size:17.51px;transform:scaleX(1.0126)">140.00</div>
<div class="t" style="left:1848.65px;top:368.00px;font-size:17.51px;transform:scaleX(1.0126)">136.00</div>
<div class="t" style="left:1848.65px;top:417.00px;font-size:17.51px;transform:scaleX(1.0126)">132.00</div>
<div class="t" style="left:1848.65px;top:466.00px;font-size:17.51px;transform:scaleX(1.0126)">128.00</div>
<div class="t" style="left:1848.65px;top:516.00px;font-size:17.51px;transform:scaleX(1.0126)">124.00</div>
<div class="t" style="left:1848.65px;top:565.00px;font-size:17.51px;transform:scaleX(1.0126)">120.00</div>
<div class="t" style="left:1848.65px;top:614.00px;font-size:17.51px;transform:scaleX(1.0126)">116.00</div>
<div class="t" style="left:1848.65px;top:664.00px;font-size:17.51px;transform:scaleX(1.0126)">112.00</div>
<div class="t" style="left:1848.65px;top:713.00px;font-size:17.51px;transform:scaleX(1.0126)">108.00</div>
<div class="t" style="left:1848.65px;top:763.00px;font-size:17.51px;transform:scaleX(1.0126)">104.00</div>
<div class="t" style="left:1848.65px;top:812.00px;font-size:17.51px;transform:scaleX(1.0126)">100.00</div>
<div class="t" style="left:1848.65px;top:861.00px;font-size:17.51px;transform:scaleX(1.0126)">96.00</div>
<div class="t" style="left:1848.65px;top:911.00px;font-size:17.51px;transform:scaleX(1.0126)">92.00</div>
<div class="lb" style="top:268.0px"></div>
<div class="t" style="left:1848.89px;top:273.88px;font-size:17.66px;transform:scaleX(0.9990);font-weight:bold;-webkit-text-stroke:0;color:#fff">143.56</div>
<div class="lb" style="top:445.0px"></div>
<div class="t" style="left:1848.89px;top:450.91px;font-size:17.66px;transform:scaleX(0.9990);font-weight:bold;-webkit-text-stroke:0;color:#fff">129.22</div>
<div class="lb" style="top:690.0px"></div>
<div class="t" style="left:1848.89px;top:695.96px;font-size:17.66px;transform:scaleX(0.9990);font-weight:bold;-webkit-text-stroke:0;color:#fff">109.37</div>
<div class="lb" style="top:805.1px"></div>
<div class="t" style="left:1848.89px;top:811.01px;font-size:17.66px;transform:scaleX(0.9990);font-weight:bold;-webkit-text-stroke:0;color:#fff">100.05</div>
<div class="a" style="left:1836px;top:494.2px;width:73px;height:47.4px;border-radius:1px;background:#f23645"></div>
<div class="t" id="lp" style="left:1848.89px;top:499.72px;font-size:17.37px;transform:scaleX(1.0156);font-weight:bold;-webkit-text-stroke:0;color:#fff;">125.29</div>
<div class="t" id="cd" style="left:1848.70px;top:520.58px;font-size:17.66px;transform:scaleX(1.0135);color:#fbccd0;">25:48</div>
<div class="t" style="left:2.20px;top:944.06px;font-size:17.09px;transform:scaleX(1.0398);">14</div>
<div class="t" style="left:108.31px;top:944.06px;font-size:17.09px;transform:scaleX(1.0398);">15</div>
<div class="t" style="left:215.33px;top:944.06px;font-size:17.09px;transform:scaleX(1.0398);">16</div>
<div class="t" style="left:321.39px;top:944.06px;font-size:17.09px;transform:scaleX(1.0398);">17</div>
<div class="t" style="left:427.33px;top:944.06px;font-size:17.09px;transform:scaleX(1.0398);">18</div>
<div class="t" style="left:534.36px;top:944.06px;font-size:17.09px;transform:scaleX(1.0398);">19</div>
<div class="t" style="left:640.52px;top:944.06px;font-size:17.09px;transform:scaleX(1.0398);">20</div>
<div class="t" style="left:746.60px;top:944.06px;font-size:17.09px;transform:scaleX(1.0398);">21</div>
<div class="t" style="left:853.62px;top:944.06px;font-size:17.09px;transform:scaleX(1.0398);">22</div>
<div class="t" style="left:959.56px;top:944.06px;font-size:17.09px;transform:scaleX(1.0398);">23</div>
<div class="t" style="left:1065.43px;top:944.06px;font-size:17.09px;transform:scaleX(1.0398);">24</div>
<div class="t" style="left:1172.54px;top:944.06px;font-size:17.09px;transform:scaleX(1.0398);">25</div>
<div class="t" style="left:1278.56px;top:944.06px;font-size:17.09px;transform:scaleX(1.0398);">26</div>
<div class="t" style="left:1384.62px;top:944.06px;font-size:17.09px;transform:scaleX(1.0398);">27</div>
<div class="t" style="left:1490.56px;top:944.06px;font-size:17.09px;transform:scaleX(1.0398);">28</div>
<div class="t" style="left:1590.53px;top:944.06px;font-size:17.09px;transform:scaleX(1.0210);font-weight:bold;-webkit-text-stroke:0;">Mar</div>
<div class="t" style="left:1708.56px;top:944.06px;font-size:17.09px;transform:scaleX(1.0398);">2</div>
<div class="t" style="left:1814.61px;top:944.06px;font-size:17.09px;transform:scaleX(1.0398);">3</div>
<div class="a" style="left:0;top:972px;width:1915px;height:1px;background:#e6e7eb"></div>
<div class="a" style="left:410px;top:985px;width:1px;height:2px;background:#e2e2e6"></div>
<svg class="a" style="left:1863.3px;top:938.7px" width="26" height="26" viewBox="0 0 26 26"><path d="M2.3 13l5.300-9.200h10.800l5.300 9.200-5.300 9.200H7.600z" fill="none" stroke="#131722" stroke-width="1.500" stroke-linejoin="round"/><circle cx="13" cy="13" r="3.100" fill="none" stroke="#131722" stroke-width="1.500"/></svg>
<svg class="a" style="left:10px;top:880px" width="56" height="36" viewBox="10 880 56 36"><path d="M14.1 886.9H32.2V908.5H22.9V895.8H14.1Z" fill="#131722"/><circle cx="38.9" cy="891" r="4.100" fill="#131722"/><path d="M47.1 886.9H58.900L50.200 908.5H40Z" fill="#131722"/></svg>
<div class="t" id="tv" style="left:69.17px;top:882.62px;font-size:31.40px;transform:scaleX(0.9338);font-weight:bold;-webkit-text-stroke:0;color:#131722;-webkit-text-stroke:0.4px #131722;">Trading</div>
<div class="t" id="tv2" style="left:176.18px;top:882.62px;font-size:31.40px;transform:scaleX(1.0379);font-weight:bold;-webkit-text-stroke:0;color:#131722;-webkit-text-stroke:0.4px #131722;">View</div>
</body></html>
